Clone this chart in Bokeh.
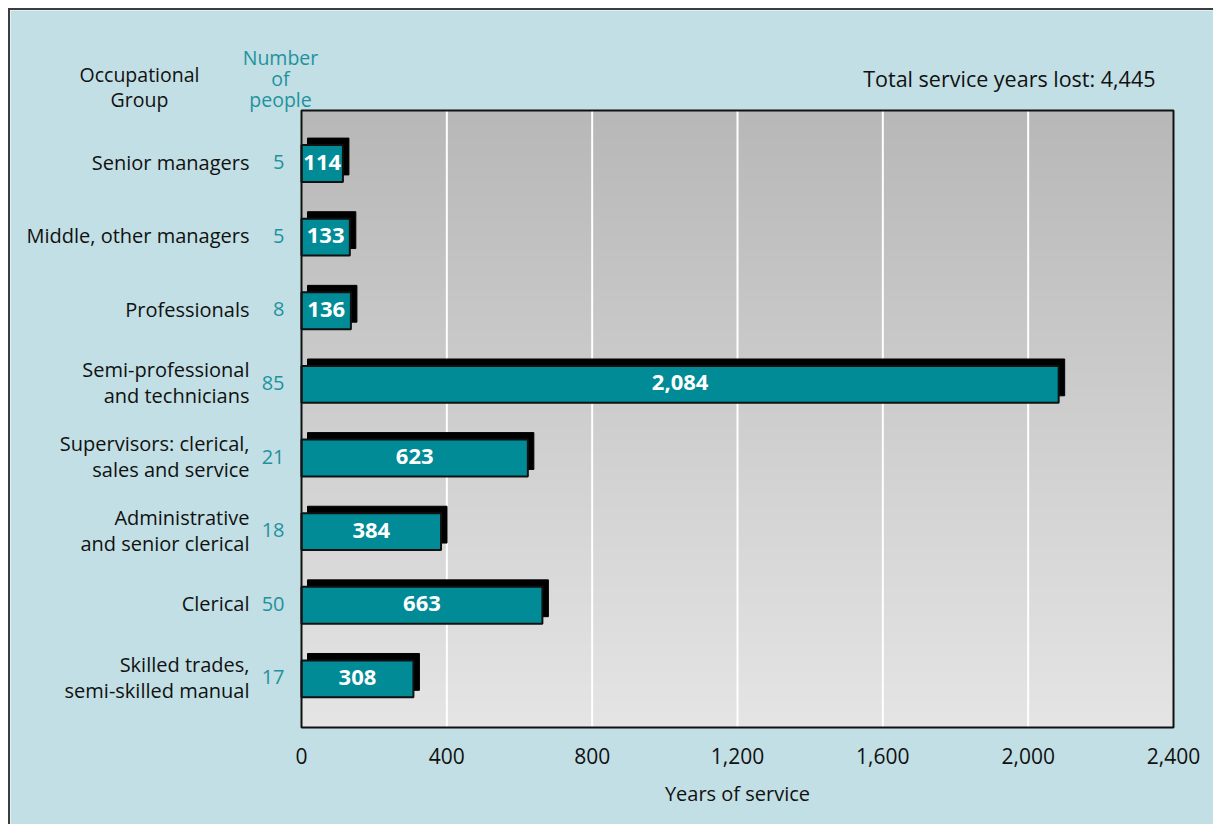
import numpy as np
from bokeh.plotting import figure
from bokeh.models import ColumnDataSource, Range1d
from bokeh.core.properties import value
from bokeh.embed import file_html
from bokeh.resources import INLINE

# ---------------- data ----------------
groups = [
    ["Senior managers"],
    ["Middle, other managers"],
    ["Professionals"],
    ["Semi-professional", "and technicians"],
    ["Supervisors: clerical,", "sales and service"],
    ["Administrative", "and senior clerical"],
    ["Clerical"],
    ["Skilled trades,", "semi-skilled manual"],
]
people = [5, 5, 8, 85, 21, 18, 50, 17]
years = [114, 133, 136, 2084, 623, 384, 663, 308]
x_ticks = [0, 400, 800, 1200, 1600, 2000, 2400]
x_title = "Years of service"
header_group = ["Occupational", "Group"]
header_people = ["Number", "of", "people"]
total_text = "Total service years lost: 4,445"

# ---------------- geometry / style ----------------
FONT = value("Open Sans")
TEAL = "#008b96"
TEAL_TXT = "#1f929e"
INK = "#111111"
PANEL = "#c1dfe4"
X_MAX = 2400
Y_TOP, Y_BOT = -0.72, 7.66          # data extent of the plotting area (reversed)
W, H = 1205, 816                    # canvas (page offset by 10px margin+border)
AREA_L, AREA_T = 291, 100           # plotting area position on canvas, px
AREA_W, AREA_H = 872, 617
XS = AREA_W / X_MAX                 # px per data unit (x)
YS = AREA_H / (Y_BOT - Y_TOP)       # px per data unit (y)
T_UP = 1.5                          # small upward nudge for "middle" text


def dx(px):
    return px / XS


def dy(px):
    return px / YS


def ypx(py):
    """canvas pixel row -> data y"""
    return Y_TOP + dy(py - AREA_T)


def xpx(px):
    """canvas pixel column -> data x"""
    return dx(px - AREA_L)


x_range = Range1d(xpx(0), xpx(W))
y_range = Range1d(ypx(H), ypx(0))

p = figure(width=W, height=H, output_backend="svg", toolbar_location=None,
           x_range=x_range, y_range=y_range,
           min_border_left=0, min_border_right=0, min_border_top=0, min_border_bottom=0)
p.margin = (8, 0, 0, 8)
p.styles = {"border-left": "2px solid #3c3c3c", "border-top": "2px solid #3c3c3c"}
p.axis.visible = False
p.grid.visible = False
p.outline_line_color = None
p.background_fill_color = PANEL
p.border_fill_color = PANEL

idx = list(range(len(years)))
src = ColumnDataSource(dict(
    y=idx,
    years=years,
    mid=[v / 2 for v in years],
    label_y=[i - dy(T_UP) for i in idx],
    label=[f"{v:,}" for v in years],
    zero=[0] * len(years),
    sh_left=[dx(6)] * len(years),
    sh_right=[v + dx(6) for v in years],
    sh_y=[i - dy(7) for i in idx],
))

# vertical gradient plotting area
n = 200
g = np.linspace(184, 229, n).astype(np.uint8)
img = np.empty((n, 1), dtype=np.uint32)
view = img.view(dtype=np.uint8).reshape((n, 1, 4))
view[:, 0, 0] = g
view[:, 0, 1] = g
view[:, 0, 2] = g
view[:, 0, 3] = 255
p.image_rgba(image=[img], x=0, y=Y_TOP, dw=X_MAX, dh=Y_BOT - Y_TOP)

# vertical grid lines
inner = [t for t in x_ticks if 0 < t < X_MAX]
p.segment(x0=inner, x1=inner, y0=[Y_TOP] * len(inner), y1=[Y_BOT] * len(inner),
          line_color="white", line_width=2)

# bars: shadow then front
BAR_H = 0.50
p.hbar(y="sh_y", left="sh_left", right="sh_right", height=BAR_H, source=src,
       fill_color="black", line_color="black", line_width=1)
p.hbar(y="y", left="zero", right="years", height=BAR_H, source=src,
       fill_color=TEAL, line_color=INK, line_width=2)
p.text(x="mid", y="label_y", text="label", source=src, text_align="center",
       text_baseline="middle", text_color="white", text_font=FONT,
       text_font_style="bold", text_font_size="22px")

# plotting area outline
p.quad(left=[0], right=[X_MAX], top=[Y_TOP], bottom=[Y_BOT],
       fill_color=None, line_color=INK, line_width=2)

# x tick labels and title
p.text(x=x_ticks, y=[Y_BOT + dy(28)] * len(x_ticks),
       text=[f"{t:,}" for t in x_ticks], text_align="center", text_baseline="middle",
       text_font=FONT, text_font_size="21px", text_color=INK)
p.text(x=[X_MAX / 2], y=[Y_BOT + dy(66)], text=[x_title], text_align="center",
       text_baseline="middle", text_font=FONT, text_font_size="20px", text_color=INK)

# category names (one glyph per line)
LINE = 26
g_text, g_y = [], []
for i, lines in enumerate(groups):
    k = len(lines)
    for j, t in enumerate(lines):
        g_text.append(t)
        g_y.append(i + dy((j - (k - 1) / 2) * LINE - T_UP))
p.text(x=[-dx(52)] * len(g_text), y=g_y, text=g_text, text_align="right",
       text_baseline="middle", text_font=FONT, text_font_size="20px", text_color=INK)

# number of people
p.text(x=[-dx(17)] * len(idx), y=[i - dy(T_UP) for i in idx], text=[str(v) for v in people],
       text_align="right", text_baseline="middle", text_font=FONT,
       text_font_size="20px", text_color=TEAL_TXT)

# headers (page px converted to canvas px: minus 10)
p.text(x=[xpx(139 - 10)] * 2, y=[ypx(75 - 10 - T_UP), ypx(100 - 10 - T_UP)],
       text=header_group, text_align="center", text_baseline="middle", text_font=FONT,
       text_font_size="19.5px", text_color=INK)
p.text(x=[xpx(280 - 10)] * 3,
       y=[ypx(58 - 10 - T_UP), ypx(79 - 10 - T_UP), ypx(100 - 10 - T_UP)],
       text=header_people, text_align="center", text_baseline="middle", text_font=FONT,
       text_font_size="19.5px", text_color=TEAL_TXT)
p.text(x=[xpx(1155 - 10)], y=[ypx(79 - 10 - T_UP)], text=[total_text], text_align="right",
       text_baseline="middle", text_font=FONT, text_font_size="21.5px", text_color=INK)

open("out.html", "w").write(file_html(p, INLINE))
